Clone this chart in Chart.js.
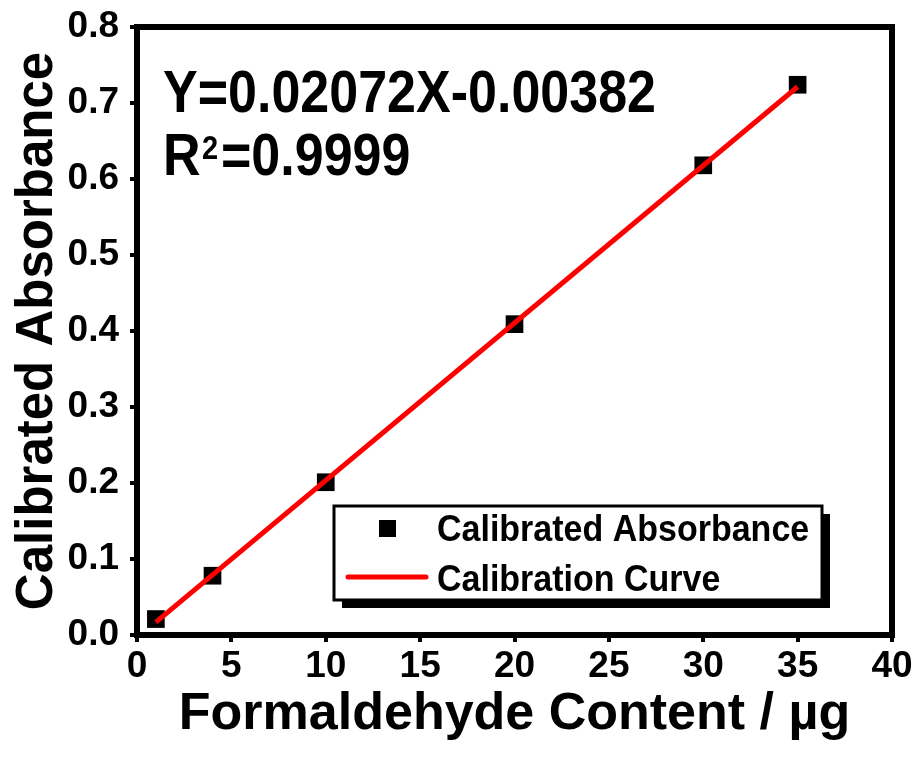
<!DOCTYPE html>
<html>
<head>
<meta charset="utf-8">
<script src="https://cdn.jsdelivr.net/npm/chart.js@4.4.0/dist/chart.umd.min.js"></script>
<style>
  html, body { margin: 0; padding: 0; background: #fff; }
  canvas { display: block; }
</style>
</head>
<body>
<canvas id="calib" width="919" height="758"></canvas>
<script>
// measured points
var contentUg = [1, 4, 10, 20, 30, 35];
var absorbance = [0.021, 0.078, 0.201, 0.409, 0.618, 0.724];

// fitted line end points (Y=0.02072X-0.00382)
var fitX = [1, 35];
var fitY = [0.0169, 0.7214];

var xTickValues = [0, 5, 10, 15, 20, 25, 30, 35, 40];
var yTickValues = [0, 0.1, 0.2, 0.3, 0.4, 0.5, 0.6, 0.7, 0.8];
var yTickLabels = ["0.0", "0.1", "0.2", "0.3", "0.4", "0.5", "0.6", "0.7", "0.8"];

var equationText = "Y=0.02072X-0.00382";
var r2Value = "=0.9999";
var pointLabel = "Calibrated Absorbance";
var lineLabel = "Calibration Curve";

var FONT = "'Liberation Sans', Arial, sans-serif";

function stretchText(ctx, txt, x, y, sy) {
  ctx.save();
  ctx.translate(x, y);
  ctx.scale(1, sy);
  ctx.fillText(txt, 0, 0);
  ctx.restore();
}

// frame, equation text and the boxed legend
var extrasPlugin = {
  id: "extras",
  afterDatasetsDraw: function (chart) {
    var ctx = chart.ctx, a = chart.chartArea;
    ctx.save();
    ctx.strokeStyle = "#000";
    ctx.lineWidth = 6;
    ctx.strokeRect(a.left, a.top, a.right - a.left, a.bottom - a.top);

    ctx.fillStyle = "#000";
    ctx.textAlign = "left";
    ctx.textBaseline = "alphabetic";
    ctx.font = "bold 52px " + FONT;
    stretchText(ctx, equationText, 163, 112, 1.15);
    stretchText(ctx, "R", 163, 175, 1.15);
    ctx.font = "bold 29px " + FONT;
    stretchText(ctx, "2", 202, 159, 1.15);
    ctx.font = "bold 52px " + FONT;
    stretchText(ctx, r2Value, 221, 175, 1.15);

    // legend box with shadow
    var bx = 334, by = 506, bw = 488, bh = 94;
    ctx.fillStyle = "#000";
    ctx.fillRect(bx + 8, by + 8, bw, bh);
    ctx.fillStyle = "#fff";
    ctx.fillRect(bx, by, bw, bh);
    ctx.lineWidth = 3;
    ctx.strokeRect(bx, by, bw, bh);

    ctx.fillStyle = "#000";
    ctx.fillRect(379, 520, 17, 17);
    ctx.strokeStyle = "#ff0000";
    ctx.lineWidth = 5;
    ctx.lineCap = "round";
    ctx.beginPath();
    ctx.moveTo(348, 577);
    ctx.lineTo(426, 577);
    ctx.stroke();

    ctx.fillStyle = "#000";
    ctx.font = "bold 34px " + FONT;
    stretchText(ctx, pointLabel, 437, 541, 1.1);
    stretchText(ctx, lineLabel, 437, 591, 1.1);
    ctx.restore();
  }
};

var ctx = document.getElementById("calib").getContext("2d");

new Chart(ctx, {
  type: "scatter",
  data: {
    datasets: [
      {
        label: pointLabel,
        data: contentUg.map(function (x, i) { return { x: x, y: absorbance[i] }; }),
        pointStyle: "rect",
        pointRadius: 12.5,
        pointHoverRadius: 12.5,
        backgroundColor: "#000",
        borderColor: "#000",
        borderWidth: 0,
        showLine: false,
        order: 1
      },
      {
        label: lineLabel,
        data: fitX.map(function (x, i) { return { x: x, y: fitY[i] }; }),
        showLine: true,
        borderColor: "#ff0000",
        borderWidth: 5,
        pointRadius: 0,
        fill: false,
        order: 0
      }
    ]
  },
  options: {
    responsive: false,
    animation: false,
    layout: { padding: { top: 27, right: 27, left: 0, bottom: 0 } },
    plugins: {
      legend: { display: false },
      tooltip: { enabled: false }
    },
    scales: {
      x: {
        type: "linear",
        min: 0,
        max: 40,
        afterFit: function (s) {
          s.height = 123;
          s.paddingLeft = 0;
          s.paddingRight = 0;
        },
        afterBuildTicks: function (s) {
          s.ticks = xTickValues.map(function (v) { return { value: v }; });
        },
        border: { display: false },
        grid: {
          drawOnChartArea: false,
          drawTicks: true,
          tickLength: 7,
          lineWidth: 4,
          color: "#000"
        },
        ticks: {
          color: "#000",
          padding: 3,
          maxRotation: 0,
          font: { family: FONT, size: 37, weight: "bold" }
        },
        title: {
          display: true,
          text: "Formaldehyde Content / \u00b5g",
          color: "#000",
          padding: { top: 0, bottom: 12 },
          font: { family: FONT, size: 52, weight: "bold", lineHeight: 1.2 }
        }
      },
      y: {
        type: "linear",
        min: 0,
        max: 0.8,
        afterFit: function (s) {
          s.width = 137;
          s.paddingTop = 0;
          s.paddingBottom = 0;
        },
        afterBuildTicks: function (s) {
          s.ticks = yTickValues.map(function (v) { return { value: v }; });
        },
        border: { display: false },
        grid: {
          drawOnChartArea: false,
          drawTicks: true,
          tickLength: 7,
          lineWidth: 4,
          color: "#000"
        },
        ticks: {
          color: "#000",
          padding: 11,
          font: { family: FONT, size: 37, weight: "bold" },
          callback: function (v) {
            var i = yTickValues.indexOf(Math.round(v * 10) / 10);
            return i >= 0 ? yTickLabels[i] : "";
          }
        },
        title: {
          display: true,
          text: "Calibrated Absorbance",
          color: "#000",
          padding: { top: 7, bottom: 0 },
          font: { family: FONT, size: 51, weight: "bold", lineHeight: 1.2 }
        }
      }
    }
  },
  plugins: [extrasPlugin]
});
</script>
</body>
</html>
